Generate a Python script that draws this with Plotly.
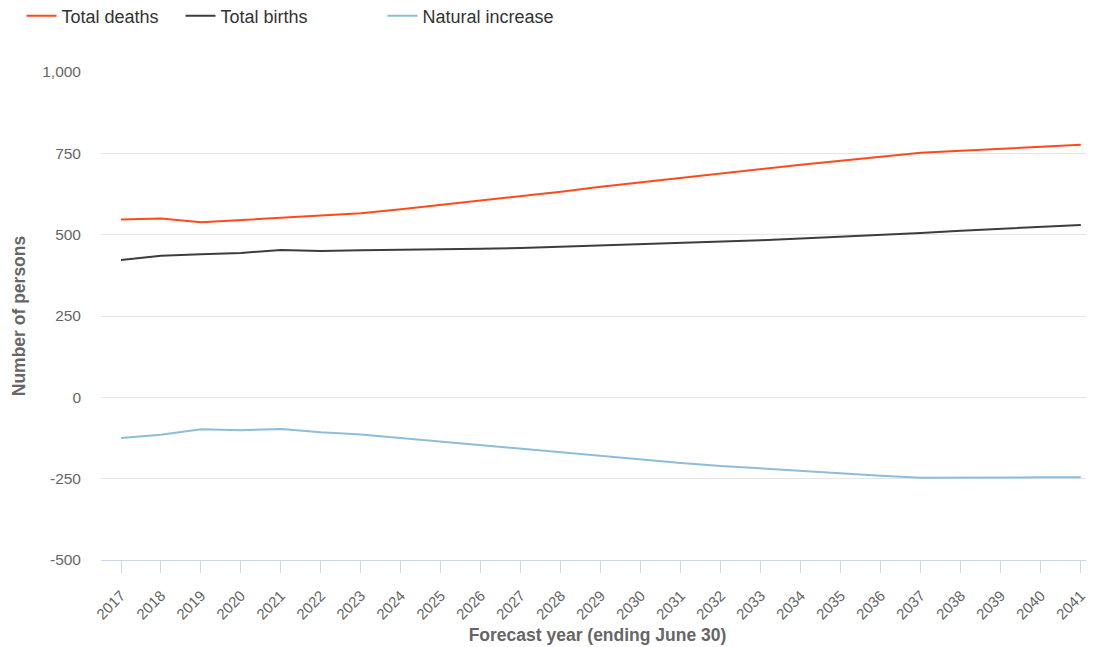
import plotly.graph_objects as go

years = [str(y) for y in range(2017, 2042)]
total_deaths = [547, 550, 538, 545, 550, 557, 566, 578, 591, 604, 617, 632, 647,
                661, 675, 689, 702, 715, 727, 740, 752, 758, 764, 770, 776]
total_births = [422, 435, 440, 444, 453, 450, 452, 453, 455, 457, 459, 463, 466,
                469, 473, 478, 483, 488, 493, 499, 505, 512, 518, 524, 530]
natural_increase = [b - d for b, d in zip(total_births, total_deaths)]

y_tick_vals = [-500, -250, 0, 250, 500, 750, 1000]
y_tick_text = ["-500", "-250", "0", "250", "500", "750", "1,000"]

FONT = "Arial, Liberation Sans, sans-serif"
W, H = 1086, 639  # page body has an 8px margin

fig = go.Figure()
fig.add_trace(go.Scatter(x=years, y=total_deaths, name="Total deaths", mode="lines",
                         line=dict(color="#FF4A1A", width=2), legend="legend"))
fig.add_trace(go.Scatter(x=years, y=total_births, name="Total births", mode="lines",
                         line=dict(color="#3D3D3D", width=2), legend="legend2"))
fig.add_trace(go.Scatter(x=years, y=natural_increase, name="Natural increase", mode="lines",
                         line=dict(color="#8DBDD8", width=2), legend="legend3"))

def leg(xpx):
    return dict(orientation="h", xref="container", yref="container",
                x=xpx / W, y=1 - 8 / H, xanchor="left", yanchor="middle",
                font=dict(family=FONT, size=18, color="#333333"),
                bgcolor="rgba(0,0,0,0)")

fig.update_layout(
    width=W, height=H,
    margin=dict(l=93, r=0, t=64, b=87),
    paper_bgcolor="white", plot_bgcolor="white",
    font=dict(family=FONT, size=15, color="#666666"),
    showlegend=True,
    legend=leg(13.5), legend2=leg(172.5), legend3=leg(374.5),
    xaxis=dict(
        type="category", range=[-0.5, 24.33],
        showgrid=False, showline=True, linecolor="#CCD6EB", linewidth=1,
        ticks="outside", ticklen=12, tickcolor="#CCD6EB",
        tickangle=-45, tickfont=dict(size=15, color="#666666"),
        ticklabelstandoff=8,
        title=dict(text="<b>Forecast year (ending June 30)</b>",
                   font=dict(size=17.5, color="#666666"), standoff=7),
        zeroline=False,
    ),
    yaxis=dict(
        range=[-500, 1000], tickvals=y_tick_vals, ticktext=y_tick_text,
        showgrid=True, gridcolor="#E6E6E6", gridwidth=1,
        zeroline=False, showline=False, ticks="",
        ticklabelstandoff=19,
        tickfont=dict(size=15.5, color="#666666"),
        title=dict(text="<b>Number of persons</b>",
                   font=dict(size=17.5, color="#666666"), standoff=12),
    ),
)

fig.write_html("out.html")
